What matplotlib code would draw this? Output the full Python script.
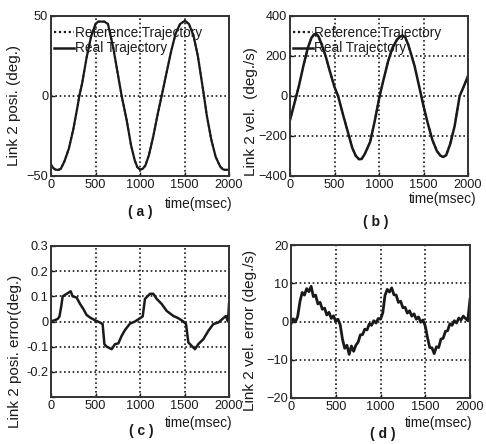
import matplotlib
matplotlib.use("Agg")
import matplotlib.pyplot as plt
from matplotlib.lines import Line2D

plt.rcParams['font.family'] = ['Liberation Sans', 'DejaVu Sans']

# ---------------- data ----------------
pos_t = [0, 25, 50, 82, 110, 150, 200, 250, 300, 318, 350, 400, 450, 500, 530, 600,
         640, 700, 750, 794, 850, 900, 940, 970, 1000, 1030, 1060, 1100, 1150, 1200,
         1243, 1300, 1350, 1400, 1450, 1505, 1550, 1600, 1650, 1700, 1719, 1750, 1800,
         1850, 1900, 1930, 1960, 2000]
pos_v = [-43, -45, -46, -46.2, -45.5, -41, -33, -21, -6, 0, 8, 24, 37, 45, 46.5, 46.5,
         45, 30, 14, 0, -15, -31, -40, -44.5, -46, -45.5, -43.5, -37, -25, -11,
         0, 15, 28, 39, 45, 47, 45, 38, 25, 7, 0, -12, -27,
         -38, -44, -45.8, -46.2, -46]

vel_t = [0, 30, 71, 100, 150, 200, 240, 270, 295, 320, 350, 400, 450, 500, 540, 600,
         650, 700, 740, 775, 805, 840, 900, 950, 1007, 1050, 1100, 1150, 1200, 1235,
         1265, 1295, 1330, 1400, 1475, 1500, 1550, 1600, 1650, 1690, 1720, 1755, 1800,
         1850, 1906, 1950, 2000]
vel_v = [-120, -70, 0, 50, 150, 240, 290, 308, 310, 298, 265, 200, 120, 45, 0, -100,
         -180, -260, -300, -316, -315, -290, -230, -130, 0, 80, 170, 240, 280, 297,
         302, 293, 255, 150, 0, -50, -140, -220, -275, -298, -305, -296, -240,
         -150, 0, 45, 100]

perr_t = [0, 40, 75, 95, 115, 131, 176, 221, 243, 288, 326, 363, 400, 438, 494, 550,
          580, 600, 625, 682, 719, 757, 794, 831, 888, 944, 1000, 1030, 1056, 1112,
          1150, 1187, 1243, 1300, 1375, 1431, 1487, 1517, 1543, 1581, 1618, 1655,
          1712, 1768, 1824, 1880, 1936, 1966, 1989, 2000]
perr_v = [0.0, 0.005, 0.01, 0.02, 0.06, 0.1, 0.11, 0.12, 0.10, 0.095, 0.07, 0.05,
          0.026, 0.016, 0.005, -0.004, -0.01, -0.09, -0.1, -0.11, -0.09, -0.087,
          -0.057, -0.034, -0.008, 0.0, 0.013, 0.02, 0.09, 0.11, 0.11, 0.09, 0.07,
          0.042, 0.022, 0.013, 0.0, -0.01, -0.083, -0.097, -0.11, -0.09, -0.07,
          -0.037, -0.01, -0.004, 0.013, 0.022, 0.0, 0.07]

verr_t = list(range(0, 2001, 25))
verr_v = [-0.6, 0.7, -0.1, 1.4, 5.2, 7.6, 6.9, 8.6, 7.8, 9.2, 6.5, 6.9, 4.6, 5.0,
          3.2, 3.5, 1.7, 2.4, 0.8, 1.5, 0.0, 0.6, -0.9, -4.6, -7.0, -6.2, -8.6,
          -6.4, -7.8, -6.2, -5.4, -3.5, -3.4, -2.0, -2.2, -0.6, -1.0, 0.2, -0.4,
          0.8, 0.6, 2.2, 6.8, 8.4, 7.7, 8.8, 7.0, 6.9, 5.0, 5.3, 3.6, 3.7, 2.2,
          2.8, 1.4, 2.0, 0.6, 1.2, -0.2, 0.4, -1.2, -4.2, -6.8, -6.9, -8.4, -6.6,
          -6.8, -4.6, -4.4, -2.6, -2.4, -0.6, -1.0, 0.2, -0.4, 0.9, 0.4, 1.4, 0.8,
          0.2, 5.8]

xticks = [0, 500, 1000, 1500, 2000]
legend_labels = ["Reference Trajectory", "Real Trajectory"]

# ---------------- figure ----------------
W, H = 486, 444
fig = plt.figure(figsize=(W / 100, H / 100), dpi=100)
ink = '#1a1a1a'
fs_tick = 9.2
fs_leg = 9.8
fs_ylab = 11
fs_xlab = 9.8


def px_axes(l, t, r, b):
    return fig.add_axes([l / W, 1 - b / H, (r - l) / W, (b - t) / H])


def style(ax, ylim, yticks, yticklabels=None):
    ax.set_xlim(0, 2000)
    ax.set_ylim(*ylim)
    ax.set_xticks(xticks)
    ax.set_yticks(yticks)
    if yticklabels is not None:
        ax.set_yticklabels(yticklabels)
    ax.tick_params(direction='in', length=3, width=1, colors=ink,
                   labelsize=fs_tick, pad=2)
    for s in ax.spines.values():
        s.set_linewidth(1.4)
        s.set_color('#333333')
    ax.grid(True, color=ink, linestyle=(0, (1, 1.6)), linewidth=1.2)
    ax.set_axisbelow(True)


# (a)
axa = px_axes(51, 16, 229, 176)
axa.plot(pos_t, pos_v, color=ink, lw=1.4, linestyle=(0, (1, 1.5)))
axa.plot(pos_t, pos_v, color=ink, lw=1.6)
style(axa, (-50, 50), [-50, 0, 50])

# (b)
axb = px_axes(290, 16, 468, 176)
axb.plot(vel_t, vel_v, color=ink, lw=1.4, linestyle=(0, (1, 1.5)))
axb.plot(vel_t, vel_v, color=ink, lw=1.8)
style(axb, (-400, 400), [-400, -200, 0, 200, 400])

# (c)
axc = px_axes(51, 246, 229, 397)
axc.plot(perr_t, perr_v, color=ink, lw=1.8)
style(axc, (-0.3, 0.3), [-0.3, -0.2, -0.1, 0, 0.1, 0.2, 0.3],
      ['', '-0.2', '-0.1', '0', '0.1', '0.2', '0.3'])

# (d)
axd = px_axes(291, 245, 470, 398)
axd.plot(verr_t, verr_v, color=ink, lw=2.0)
style(axd, (-20, 20), [-20, -10, 0, 10, 20])

# legends
handles = [Line2D([], [], color=ink, lw=1.6, linestyle=(0, (1, 1.2))),
           Line2D([], [], color=ink, lw=1.8)]
for ax in (axa, axb):
    leg = ax.legend(handles, legend_labels, loc='upper left',
                    bbox_to_anchor=(-0.02, 0.98), frameon=False, fontsize=fs_leg,
                    handlelength=1.45, handletextpad=0.05, labelspacing=0.1,
                    borderaxespad=0.1)
    for t in leg.get_texts():
        t.set_color(ink)

# y labels
fig.text(14 / W, 1 - 105 / H, "Link 2 posi. (deg.)", rotation=90, ha='center',
         va='center', fontsize=fs_ylab, color=ink)
fig.text(251 / W, 1 - 112 / H, "Link 2 vel.  (deg./s)", rotation=90, ha='center',
         va='center', fontsize=fs_ylab, color=ink)
fig.text(15 / W, 1 - 351 / H, "Link 2 posi. error(deg.)", rotation=90, ha='center',
         va='center', fontsize=fs_ylab, color=ink)
fig.text(250 / W, 1 - 330 / H, "Link 2 vel. error (deg./s)", rotation=90, ha='center',
         va='center', fontsize=fs_ylab, color=ink)

# x labels
for xr, yc in [(232, 204), (476, 199), (232, 423), (472, 423)]:
    fig.text(xr / W, 1 - yc / H, "time(msec)", ha='right', va='center',
             fontsize=fs_xlab, color=ink)

# panel labels
for lab, xc, yc in [("( a )", 140, 212), ("( b )", 376, 222),
                    ("( c )", 141, 431), ("( d )", 383, 434)]:
    fig.text(xc / W, 1 - yc / H, lab, ha='center', va='center', fontsize=10,
             fontweight='bold', color=ink)

fig.savefig("out.png", dpi=100)
